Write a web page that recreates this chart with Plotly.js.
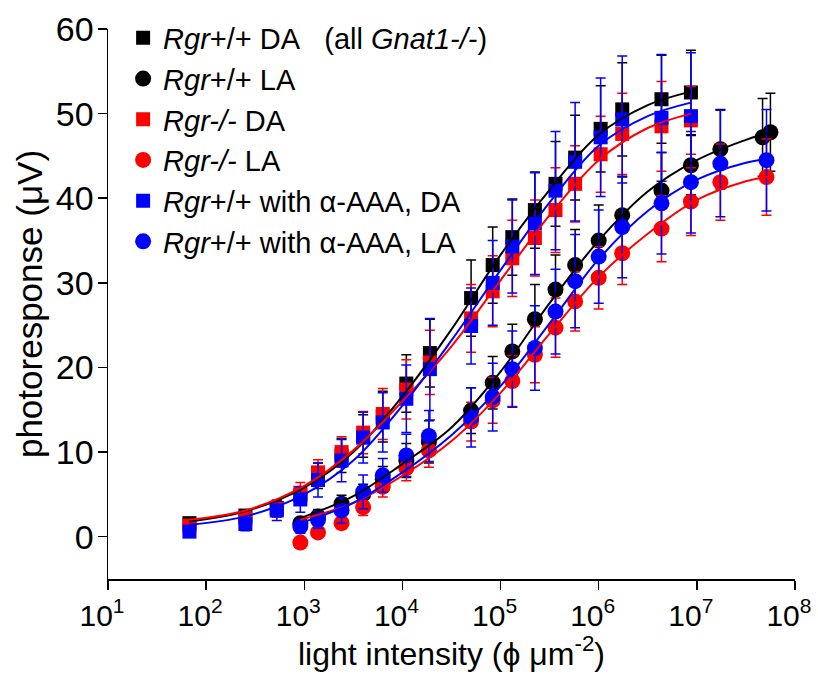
<!DOCTYPE html>
<html>
<head>
<meta charset="utf-8">
<script src="https://cdn.plot.ly/plotly-3.0.1.min.js"></script>
<style>html,body{margin:0;padding:0;background:#fff;}#chart{width:818px;height:684px;}</style>
</head>
<body>
<div id="chart"></div>
<script>
// ---- data (log10 light intensity, photoresponse µV) ----
const xDA = [1.83,2.40,2.72,2.96,3.14,3.38,3.60,3.80,4.04,4.28,4.70,4.92,5.12,5.35,5.56,5.76,6.02,6.24,6.64,6.94];
const xLA = [2.96,3.14,3.38,3.60,3.80,4.04,4.27,4.70,4.92,5.12,5.35,5.56,5.76,6.00,6.24,6.64,6.94,7.24,7.71];
const xLAblack = [2.96,3.14,3.38,3.60,3.80,4.04,4.27,4.70,4.92,5.12,5.35,5.56,5.76,6.00,6.24,6.64,6.94,7.24,7.67,7.75];

const blackDA = [1.6,2.5,3.4,4.9,7.2,9.6,11.9,14.2,18.1,21.7,28.2,32.1,35.4,38.6,41.7,44.8,48.2,50.5,51.7,52.5];
const blackDAerr = [0.4,0.6,0.8,1.0,1.5,2.0,2.5,3.0,3.4,4.0,4.5,4.5,4.5,4.5,5.0,5.0,5.1,5.5,5.2,5.0];
const redDA = [1.3,2.2,3.3,5.2,7.6,10.0,12.3,14.5,17.4,20.6,25.8,29.0,32.9,35.3,38.6,41.7,45.2,47.6,48.5,49.2];
const redDAerr = [0.4,0.6,1.0,1.2,1.5,1.8,2.5,3.0,3.5,3.8,4.0,4.2,4.5,4.5,5.0,4.5,4.5,4.8,5.3,4.0];
const blueDA = [0.6,1.5,3.1,4.4,6.7,9.0,11.7,13.5,16.3,19.8,24.9,30.0,34.3,37.0,40.9,44.3,47.2,49.3,49.5,49.7];
const blueDAerr = [0.5,0.8,1.2,1.5,2.0,2.5,3.0,3.5,4.0,6.0,4.5,5.0,5.5,6.0,7.0,7.0,7.0,7.5,7.5,7.5];

const blackLA = [1.6,2.4,3.9,5.0,6.8,9.0,11.2,14.9,18.2,21.9,25.7,29.2,32.1,35.0,38.0,40.9,43.9,45.8,47.2,47.8];
const blackLAerr = [0.5,0.8,1.0,1.2,1.5,2.0,2.5,2.7,3.1,3.2,4.1,4.1,4.2,4.2,4.5,4.5,3.5,4.7,4.6,4.6];
const redLA = [-0.7,0.5,1.6,3.5,5.9,8.1,10.2,13.6,16.1,18.4,21.5,24.7,27.8,30.6,33.5,36.4,39.6,41.9,42.5];
const redLAerr = [0.3,0.5,0.7,1.0,1.2,1.5,2.0,2.3,2.7,3.0,3.3,3.5,3.5,3.7,3.7,3.9,4.0,4.5,4.5];
const blueLA = [1.2,2.0,3.1,5.3,7.25,9.6,11.9,14.1,16.5,19.8,22.3,26.6,30.2,33.1,36.6,39.4,41.9,44.1,44.5];
const blueLAerr = [0.8,1.0,1.5,2.0,2.0,2.5,3.0,3.5,4.0,4.5,5.0,5.0,5.5,5.5,6.0,6.0,6.0,6.3,6.0];

// fitted curves
const fitXDA = [1.83,2.4,3.0,3.5,4.0,4.5,5.0,5.5,6.0,6.5,6.94];
const fitBlackDA = [1.8,3.0,5.8,10.0,16.6,24.5,33.3,41.0,47.5,51.0,52.6];
const fitRedDA = [2.0,3.1,6.0,10.2,16.0,22.5,30.3,38.0,44.5,48.3,50.0];
const fitBlueDA = [1.4,2.4,5.0,9.0,15.5,23.2,31.5,39.5,46.2,49.7,51.3];
const fitXLA = [2.96,3.5,4.0,4.5,5.0,5.5,6.0,6.5,7.0,7.5,7.74];
const fitBlackLA = [2.2,4.8,8.6,12.9,19.5,27.6,35.0,40.8,44.5,46.9,47.8];
const fitRedLA = [2.0,4.0,7.2,11.3,17.0,24.0,30.7,35.8,39.8,42.0,42.6];
const fitBlueLA = [1.6,4.0,7.6,12.0,17.8,25.2,32.8,38.5,42.2,44.2,44.7];

const legendNames = [
  '<i>Rgr</i>+/+ DA&nbsp;&nbsp;&nbsp;(all <i>Gnat1-/-</i>)',
  '<i>Rgr</i>+/+ LA',
  '<i>Rgr-/-</i> DA',
  '<i>Rgr-/-</i> LA',
  '<i>Rgr</i>+/+ with α-AAA, DA',
  '<i>Rgr</i>+/+ with α-AAA, LA'
];
const tickExp = [1,2,3,4,5,6,7,8];
const tickText = tickExp.map(e => '10<sup>' + e + '</sup>');
const yTicks = [0,10,20,30,40,50,60];

const FONT = '"Liberation Sans", Arial, sans-serif';
const pow = a => a.map(v => Math.pow(10, v));

function pts(x, y, e, color, sym, name) {
  return {
    type: 'scatter', mode: 'markers', x: pow(x), y: y, name: name,
    marker: {color: color, symbol: sym, size: sym === 'square' ? 14 : 16, line: {width: 0}},
    error_y: {type: 'data', array: e, visible: true, color: color, thickness: 1.5, width: 5}
  };
}
function fit(x, y, color) {
  return {
    type: 'scatter', mode: 'lines', x: pow(x), y: y, showlegend: false, hoverinfo: 'skip',
    line: {color: color, width: 2, shape: 'spline', smoothing: 1}
  };
}

const data = [
  pts(xDA, blackDA, blackDAerr, '#000000', 'square', legendNames[0]),
  pts(xLAblack, blackLA, blackLAerr, '#000000', 'circle', legendNames[1]),
  pts(xDA, redDA, redDAerr, '#ff0000', 'square', legendNames[2]),
  pts(xLA, redLA, redLAerr, '#ff0000', 'circle', legendNames[3]),
  pts(xDA, blueDA, blueDAerr, '#0000ff', 'square', legendNames[4]),
  pts(xLA, blueLA, blueLAerr, '#0000ff', 'circle', legendNames[5]),
  fit(fitXDA, fitBlackDA, '#000000'),
  fit(fitXLA, fitBlackLA, '#000000'),
  fit(fitXDA, fitRedDA, '#ff0000'),
  fit(fitXLA, fitRedLA, '#ff0000'),
  fit(fitXDA, fitBlueDA, '#0000ff'),
  fit(fitXLA, fitBlueLA, '#0000ff')
];

const layout = {
  width: 818, height: 684,
  margin: {l: 108, r: 23, t: 26, b: 105},
  paper_bgcolor: '#ffffff', plot_bgcolor: '#ffffff',
  showlegend: true,
  legend: {
    x: 0.022, y: 1.03, xanchor: 'left', yanchor: 'top',
    bgcolor: 'rgba(0,0,0,0)', borderwidth: 0,
    font: {family: FONT, size: 29, color: '#000'},
    itemsizing: 'trace'
  },
  xaxis: {
    type: 'log', range: [1, 8.0005],
    tickmode: 'array', tickvals: pow(tickExp), ticktext: tickText,
    ticks: 'outside', ticklen: 9, tickwidth: 1.5, tickcolor: '#000',
    ticklabelshift: -6,
    showline: true, linewidth: 1.5, linecolor: '#000',
    showgrid: false, zeroline: false,
    tickfont: {family: FONT, size: 30, color: '#000'},
    title: {text: 'light intensity (ϕ μm<sup>-2</sup>)', font: {family: FONT, size: 32, color: '#000'}, standoff: 2}
  },
  yaxis: {
    range: [-5, 60],
    tickmode: 'array', tickvals: yTicks,
    ticks: 'outside', ticklen: 9, tickwidth: 1.5, tickcolor: '#000',
    ticklabelstandoff: -3,
    showline: true, linewidth: 1.5, linecolor: '#000',
    showgrid: false, zeroline: false,
    tickfont: {family: FONT, size: 34, color: '#000'},
    title: {text: 'photoresponse (μV)', font: {family: FONT, size: 35, color: '#000'}, standoff: 2}
  }
};

Plotly.newPlot('chart', data, layout, {staticPlot: true, displayModeBar: false});
</script>
</body>
</html>
